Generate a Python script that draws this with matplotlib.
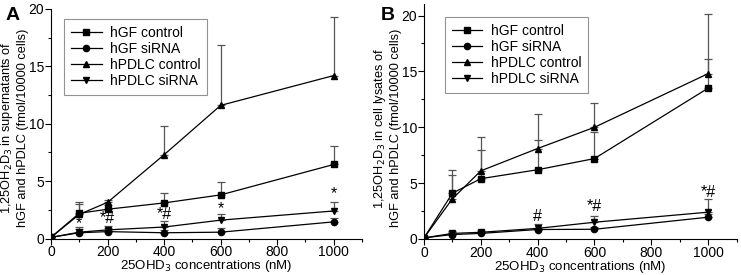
import matplotlib
matplotlib.use("Agg")
import matplotlib.pyplot as plt
import matplotlib.lines as line
from matplotlib.ticker import MultipleLocator

plt.rcParams['font.family'] = ['Liberation Sans Narrow', 'Liberation Sans', 'DejaVu Sans']

conc = [0, 100, 200, 400, 600, 1000]
series_names = ['hGF control', 'hGF siRNA', 'hPDLC control', 'hPDLC siRNA']
markers = ['s', 'o', '^', 'v']

# panel A: supernatants (mean, top of error bar)
a_gf_ctrl = [0.1, 2.2, 2.55, 3.1, 3.8, 6.45]
a_gf_ctrl_top = [0.1, 3.2, 2.9, 4.0, 4.9, 8.1]
a_gf_si = [0.1, 0.5, 0.6, 0.5, 0.55, 1.45]
a_gf_si_top = [0.1, 0.8, 0.9, 0.7, 0.9, 1.8]
a_pd_ctrl = [0.1, 2.1, 3.15, 7.3, 11.6, 14.2]
a_pd_ctrl_top = [0.1, 3.0, 3.35, 9.8, 16.9, 19.3]
a_pd_si = [0.1, 0.55, 0.75, 1.0, 1.6, 2.4]
a_pd_si_top = [0.1, 1.0, 1.1, 1.5, 2.1, 3.15]
a_marks = ['*', '*#', '*#', '*', '*']
a_mark_x = [100, 200, 400, 600, 1000]
a_mark_y = [1.3, 1.7, 2.05, 2.6, 3.9]

# panel B: cell lysates
b_gf_ctrl = [0.1, 4.1, 5.4, 6.2, 7.2, 13.5]
b_gf_ctrl_top = [0.1, 5.7, 8.0, 8.9, 9.6, 16.1]
b_gf_si = [0.1, 0.4, 0.5, 0.85, 0.87, 1.95]
b_gf_si_top = [0.1, 0.6, 0.7, 1.0, 1.1, 2.2]
b_pd_ctrl = [0.1, 3.6, 6.1, 8.1, 10.0, 14.8]
b_pd_ctrl_top = [0.1, 6.2, 9.1, 11.2, 12.2, 20.1]
b_pd_si = [0.1, 0.5, 0.6, 0.95, 1.5, 2.4]
b_pd_si_top = [0.1, 0.7, 0.8, 1.3, 2.06, 3.55]
b_marks = ['#', '*#', '*#']
b_mark_x = [400, 600, 1000]
b_mark_y = [2.0, 2.9, 4.2]

W, H = 741, 275
fig = plt.figure(figsize=(W / 100, H / 100), dpi=100)


def px_axes(x0, x1, ytop, ybot):
    return fig.add_axes([x0 / W, 1 - ybot / H, (x1 - x0) / W, (ybot - ytop) / H])


def draw_panel(ax, data, marks, mark_x, mark_y, ymax, leg_anchor):
    handles = []
    for (m, t), mk in zip(data, markers):
        up = [b - a for a, b in zip(m, t)]
        ax.errorbar(conc, m, yerr=[[0] * len(m), up], fmt='-', marker=mk, color='black',
                    ms=4.5, lw=0.9, ecolor='#555555', elinewidth=0.9, capsize=3,
                    capthick=0.9)
        handles.append(line.Line2D([0, 1], [0, 0], color='black', lw=0.9, marker=mk, ms=4.5))
    for s, x, y in zip(marks, mark_x, mark_y):
        ax.text(x, y, s, ha='center', va='center', fontsize=11.5,
                family=['Liberation Sans', 'DejaVu Sans'])
    ax.set_xlim(0, 1100)
    ax.set_ylim(0, ymax)
    ax.xaxis.set_minor_locator(MultipleLocator(100))
    ax.yaxis.set_major_locator(MultipleLocator(5))
    ax.yaxis.set_minor_locator(MultipleLocator(2.5))
    ax.set_xticks([0, 200, 400, 600, 800, 1000])
    ax.tick_params(which='both', direction='out', labelsize=10, width=0.8)
    ax.tick_params(which='major', length=4, pad=1)
    ax.tick_params(which='minor', length=2.5)
    for side in ['top', 'right']:
        ax.spines[side].set_visible(False)
    for side in ['left', 'bottom']:
        ax.spines[side].set_linewidth(0.8)
    ax.set_xlabel('25OHD$_3$ concentrations (nM)', fontsize=9.5, labelpad=-1)
    leg = ax.legend(handles, series_names, loc='upper left', bbox_to_anchor=leg_anchor,
                    borderaxespad=0, fontsize=10, frameon=True, fancybox=False,
                    edgecolor='#777777', handlelength=2.2, labelspacing=0.15,
                    borderpad=0.5, handletextpad=0.6)
    leg.get_frame().set_linewidth(0.8)


axA = px_axes(51, 362, 9, 238.5)
draw_panel(axA, [(a_gf_ctrl, a_gf_ctrl_top), (a_gf_si, a_gf_si_top),
                 (a_pd_ctrl, a_pd_ctrl_top), (a_pd_si, a_pd_si_top)],
           a_marks, a_mark_x, a_mark_y, 20, (0.042, 0.956))

axB = px_axes(424, 736.5, 4.4, 239)
draw_panel(axB, [(b_gf_ctrl, b_gf_ctrl_top), (b_gf_si, b_gf_si_top),
                 (b_pd_ctrl, b_pd_ctrl_top), (b_pd_si, b_pd_si_top)],
           b_marks, b_mark_x, b_mark_y, 21, (0.067, 0.946))

fig.text(14 / W, 1 - 128 / H, '1,25OH$_2$D$_3$ in supernatants of\nhGF and hPDLC (fmol/10000 cells)',
         rotation=90, ha='center', va='center', multialignment='center', fontsize=9.2,
         linespacing=1.15)
fig.text(387 / W, 1 - 128 / H, '1,25OH$_2$D$_3$ in cell lysates of\nhGF and hPDLC (fmol/10000 cells)',
         rotation=90, ha='center', va='center', multialignment='center', fontsize=9.2,
         linespacing=1.15)
fig.text(12.5 / W, 1 - 15 / H, 'A', fontsize=14, fontweight='bold', ha='center', va='center',
         family=['Liberation Sans', 'DejaVu Sans'])
fig.text(388 / W, 1 - 15.5 / H, 'B', fontsize=14, fontweight='bold', ha='center', va='center',
         family=['Liberation Sans', 'DejaVu Sans'])

fig.savefig('out.png', dpi=100)
